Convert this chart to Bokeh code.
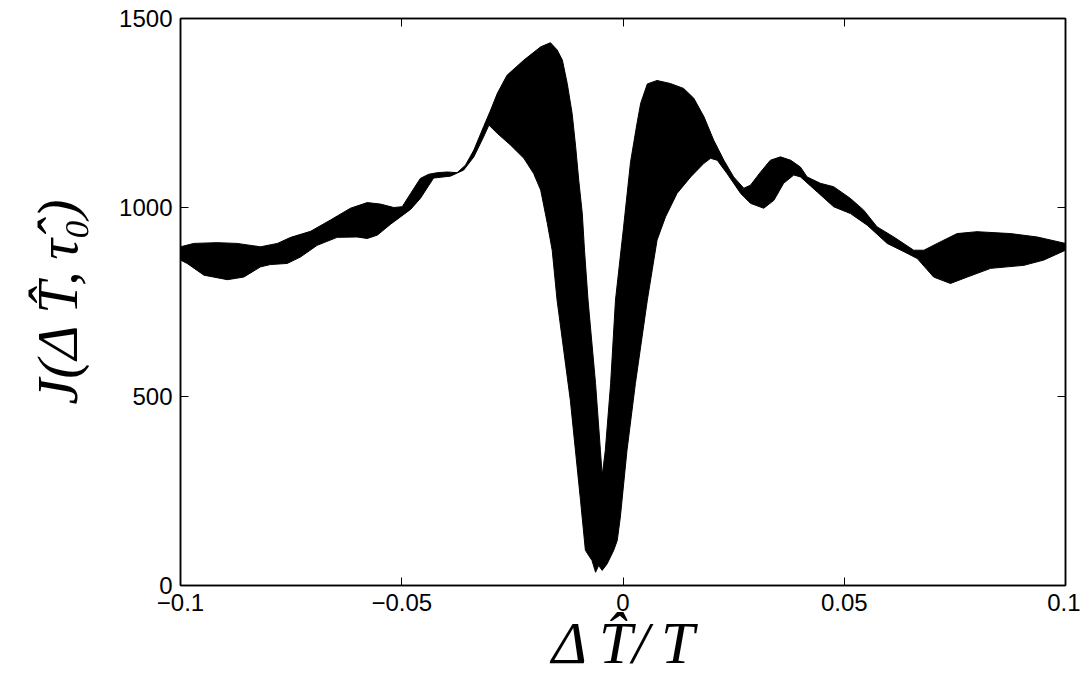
from bokeh.plotting import figure
from bokeh.models import Range1d, FixedTicker, LinearAxis, CustomJSTickFormatter, ColumnDataSource
from bokeh.embed import file_html
from bokeh.resources import INLINE

# Upper envelope of the family of curves
x_upper = [-0.1000, -0.0970, -0.0917, -0.0872, -0.0819, -0.0781, -0.0751, -0.0706, -0.0661, -0.0616,
           -0.0578, -0.0548, -0.0518, -0.0499, -0.0480, -0.0458, -0.0439, -0.0420, -0.0397, -0.0375,
           -0.0356, -0.0337, -0.0315, -0.0299, -0.0284, -0.0262, -0.0224, -0.0186, -0.0164, -0.0149,
           -0.0137, -0.0126, -0.0115, -0.0107, -0.0100, -0.0092, -0.0087, -0.0079, -0.0062, -0.0051,
           -0.0047, -0.0040, -0.0028, -0.0017, 0.0001, 0.0017, 0.0031, 0.0040, 0.0055, 0.0077,
           0.0107, 0.0137, 0.0160, 0.0183, 0.0205, 0.0228, 0.0250, 0.0273, 0.0288, 0.0311,
           0.0333, 0.0356, 0.0379, 0.0401, 0.0416, 0.0446, 0.0476, 0.0514, 0.0544, 0.0574,
           0.0612, 0.0657, 0.0680, 0.0710, 0.0755, 0.0800, 0.0876, 0.0936, 0.1000]
y_upper = [896, 905, 907, 905, 896, 905, 921, 937, 967, 998,
           1013, 1009, 1000, 1002, 1037, 1077, 1088, 1092, 1094, 1092,
           1112, 1152, 1214, 1258, 1302, 1350, 1390, 1425, 1436, 1417,
           1390, 1328, 1249, 1161, 1072, 984, 887, 755, 534, 357,
           291, 357, 534, 755, 945, 1120, 1218, 1276, 1327, 1336,
           1328, 1315, 1289, 1240, 1178, 1125, 1081, 1051, 1059, 1094,
           1125, 1134, 1125, 1107, 1081, 1064, 1055, 1024, 993, 949,
           922, 887, 887, 905, 931, 936, 931, 922, 905]

# Lower envelope of the family of curves
x_lower = [-0.1000, -0.0985, -0.0947, -0.0894, -0.0857, -0.0819, -0.0797, -0.0759, -0.0729, -0.0691,
           -0.0646, -0.0601, -0.0578, -0.0555, -0.0525, -0.0480, -0.0458, -0.0428, -0.0390, -0.0360,
           -0.0337, -0.0315, -0.0303, -0.0284, -0.0254, -0.0224, -0.0202, -0.0186, -0.0171, -0.0160,
           -0.0149, -0.0119, -0.0096, -0.0085, -0.0070, -0.0062, -0.0055, -0.0047, -0.0036, -0.0021,
           -0.0013, -0.0006, 0.0009, 0.0028, 0.0055, 0.0077, 0.0096, 0.0122, 0.0153, 0.0183,
           0.0198, 0.0213, 0.0235, 0.0266, 0.0288, 0.0318, 0.0341, 0.0363, 0.0386, 0.0401,
           0.0439, 0.0476, 0.0514, 0.0552, 0.0597, 0.0635, 0.0665, 0.0702, 0.0740, 0.0778,
           0.0831, 0.0906, 0.0951, 0.1000]
y_lower = [861, 852, 821, 809, 816, 843, 849, 852, 869, 900,
           921, 922, 918, 927, 956, 995, 1024, 1078, 1083, 1099,
           1134, 1187, 1218, 1196, 1165, 1130, 1090, 1046, 958, 887,
           755, 490, 225, 93, 66, 35, 53, 40, 57, 93,
           119, 181, 357, 534, 755, 914, 975, 1037, 1081, 1117,
           1130, 1125, 1090, 1037, 1011, 998, 1019, 1064, 1086, 1081,
           1041, 1002, 984, 953, 905, 883, 865, 816, 799, 816,
           839, 847, 861, 887]

x_ticks = [-0.1, -0.05, 0, 0.05, 0.1]
y_ticks = [0, 500, 1000, 1500]
x_title = "\u0394\u2009T\u0302/\u2009T"
y_title = "J(\u0394\u2009T\u0302,\u2009\u03c4\u0302\u2080)"

band = ColumnDataSource(data=dict(
    x=x_upper + x_lower[::-1],
    y=y_upper + y_lower[::-1],
))

p = figure(width=1080, height=683, output_backend="svg", toolbar_location=None,
           x_range=Range1d(-0.1, 0.1), y_range=Range1d(0, 1500),
           min_border_left=180, min_border_right=15, min_border_top=18, min_border_bottom=98,
           background_fill_color="white", border_fill_color="white")

p.patch(x="x", y="y", source=band, fill_color="black", line_color="black", line_width=1)

p.xgrid.visible = False
p.ygrid.visible = False
p.outline_line_color = "black"
p.outline_line_width = 1.5

fmt = CustomJSTickFormatter(code="return (tick < 0 ? '\u2212' : '') + Math.abs(tick).toString();")
blank = CustomJSTickFormatter(code="return '';")

xa = p.xaxis[0]
xa.ticker = FixedTicker(ticks=x_ticks)
xa.formatter = fmt
xa.axis_label = x_title
ya = p.yaxis[0]
ya.ticker = FixedTicker(ticks=y_ticks)
ya.axis_label = y_title

for ax in (xa, ya):
    ax.major_tick_in = 8
    ax.major_tick_out = 0
    ax.minor_tick_line_color = None
    ax.axis_line_color = "black"
    ax.axis_line_width = 1.5
    ax.major_tick_line_color = "black"
    ax.major_label_text_font = "Liberation Sans"
    ax.major_label_text_font_size = "24px"
    ax.major_label_text_color = "black"
    ax.axis_label_text_font = "Liberation Serif"
    ax.axis_label_text_font_style = "italic"
    ax.axis_label_text_color = "black"

xa.axis_label_text_font_size = "60px"
xa.axis_label_text_line_height = 0.85
ya.axis_label_text_font_size = "58px"
xa.major_label_standoff = 8
xa.axis_label_standoff = -4
ya.major_label_standoff = 8
ya.axis_label_standoff = 26

top = LinearAxis(ticker=FixedTicker(ticks=x_ticks), formatter=blank,
                 major_tick_in=8, major_tick_out=0, minor_tick_line_color=None,
                 axis_line_color="black", axis_line_width=1.5, major_label_standoff=0)
right = LinearAxis(ticker=FixedTicker(ticks=y_ticks), formatter=blank,
                   major_tick_in=8, major_tick_out=0, minor_tick_line_color=None,
                   axis_line_color="black", axis_line_width=1.5, major_label_standoff=0)
p.add_layout(top, "above")
p.add_layout(right, "right")

open("out.html", "w").write(file_html(p, INLINE))
